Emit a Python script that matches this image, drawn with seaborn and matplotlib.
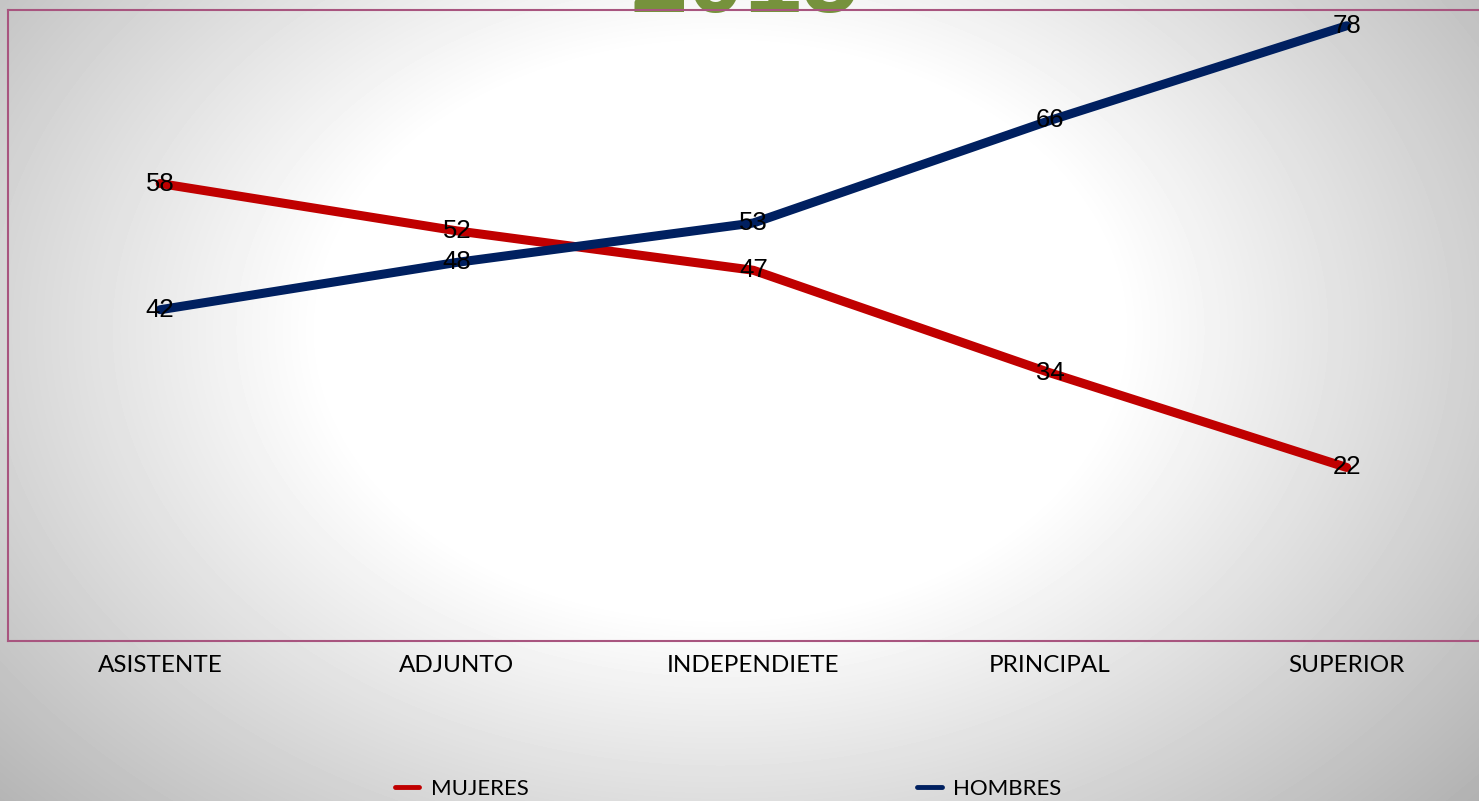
import numpy as np
import pandas as pd
import seaborn as sns
import matplotlib
import matplotlib.pyplot as plt

matplotlib.use('Agg')
sns.set_theme(style='white')
plt.rcParams['font.family'] = ['Liberation Sans', 'DejaVu Sans']

categorias = ['ASISTENTE', 'ADJUNTO', 'INDEPENDIETE', 'PRINCIPAL', 'SUPERIOR']
mujeres = [58, 52, 47, 34, 22]
hombres = [42, 48, 53, 66, 78]
series = ['MUJERES', 'HOMBRES']
colores = {'MUJERES': '#C00000', 'HOMBRES': '#002060'}
titulo = '2015'

df = pd.DataFrame({
    'categoria': categorias * 2,
    'pos': list(range(len(categorias))) * 2,
    'valor': mujeres + hombres,
    'serie': ['MUJERES'] * len(categorias) + ['HOMBRES'] * len(categorias),
})

W, H = 1479, 801
fig = plt.figure(figsize=(W / 100, H / 100), dpi=100)

# radial gradient background
bg = fig.add_axes([0, 0, 1, 1], zorder=-10)
yy, xx = np.mgrid[0:H, 0:W]
r = np.sqrt(((xx - 720) / 950.0) ** 2 + ((yy - 330) / 680.0) ** 2)
shade = np.clip(1 - 0.24 * np.clip((r - 0.42) / 0.5, 0, 1.3), 0, 1)
bg.imshow(shade, cmap='gray', vmin=0, vmax=1, aspect='auto', extent=[0, W, H, 0])
bg.axis('off')

left, right = 8, 1495
top, bottom = 10, 641
ax = fig.add_axes([left / W, 1 - bottom / H, (right - left) / W, (bottom - top) / H])
ax.set_facecolor('none')

sns.lineplot(data=df, x='pos', y='valor', hue='serie', palette=colores,
             hue_order=series, linewidth=6.5, ax=ax, legend=False)

for s, vals in zip(series, [mujeres, hombres]):
    for i, v in enumerate(vals):
        ax.text(i, v, str(v), ha='center', va='center', fontsize=18.5, color='black')

ax.set_xlim(-0.513, 4.5)
ax.set_ylim(0, 80)
ax.set_xticks(range(len(categorias)))
ax.set_xticklabels(categorias, fontsize=17.5, color='black', family=['Lato', 'DejaVu Sans'])
ax.set_yticks([])
ax.tick_params(axis='x', length=0, pad=10)
ax.set_xlabel('')
ax.set_ylabel('')
for sp in ax.spines.values():
    sp.set_color('#A8557F')
    sp.set_linewidth(1.5)

fig.text(745 / W, 1 - 12 / H, titulo, ha='center', va='baseline',
         fontsize=74, fontweight='bold', color='#76923C', zorder=-5)

handles = [plt.Line2D([], [], color=colores[s], linewidth=3.5) for s in series]
leg = fig.legend(handles, series, loc='center', bbox_to_anchor=(728 / W, 1 - 789 / H),
                 ncol=2, frameon=False, handlelength=1.1, handletextpad=0.5,
                 columnspacing=17.5, prop={'family': ['Lato', 'DejaVu Sans'], 'size': 16})
for t in leg.get_texts():
    t.set_color('black')

fig.savefig('out.png', dpi=100)
